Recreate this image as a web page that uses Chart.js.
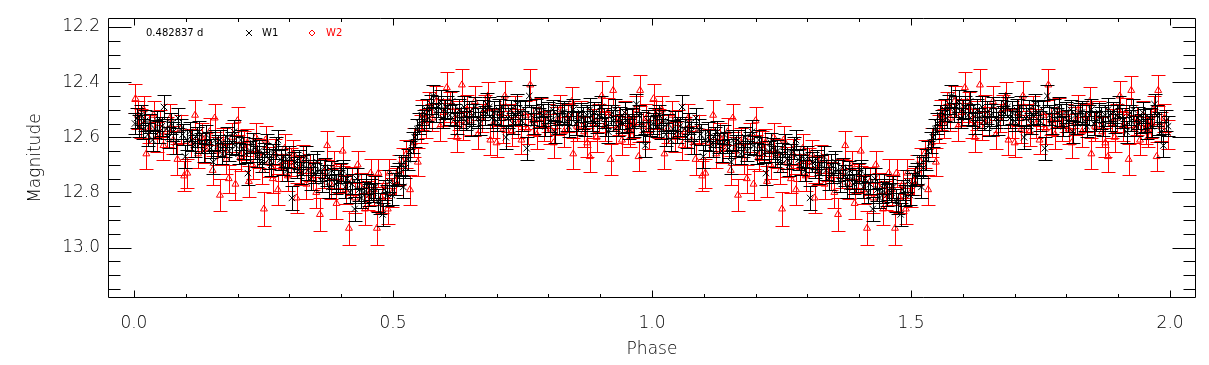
<!DOCTYPE html>
<html>
<head>
<meta charset="utf-8">
<script src="https://cdn.jsdelivr.net/npm/chart.js@4.4.0/dist/chart.umd.min.js"></script>
<style>
html,body{margin:0;padding:0;background:#fff;}
#wrap{width:1209px;height:365px;position:relative;}
</style>
</head>
<body>
<div id="wrap"><canvas id="c" width="1209" height="365"></canvas></div>
<script>
// ---- data (one folded cycle, phase 0..1) ----
const periodLabel = "0.482837 d";
const seriesNames = ["W1", "W2"];

const w1Phase = [
0.002,0.006,0.010,0.014,0.018,0.022,0.027,0.031,0.036,0.040,
0.045,0.049,0.054,0.058,0.063,0.067,0.072,0.076,0.081,0.085,
0.090,0.094,0.099,0.103,0.108,0.112,0.117,0.121,0.126,0.130,
0.135,0.139,0.144,0.148,0.153,0.157,0.162,0.166,0.171,0.175,
0.180,0.184,0.189,0.193,0.197,0.202,0.206,0.211,0.216,0.220,
0.225,0.229,0.233,0.238,0.242,0.247,0.251,0.256,0.260,0.265,
0.269,0.274,0.278,0.283,0.287,0.292,0.296,0.300,0.305,0.309,
0.314,0.318,0.323,0.327,0.332,0.336,0.341,0.345,0.350,0.354,
0.359,0.363,0.368,0.372,0.377,0.381,0.386,0.390,0.394,0.399,
0.403,0.408,0.412,0.417,0.421,0.426,0.430,0.435,0.439,0.444,
0.448,0.453,0.457,0.462,0.466,0.471,0.475,0.480,0.484,0.489,
0.493,0.498,0.502,0.507,0.511,0.516,0.520,0.524,0.529,0.533,
0.538,0.542,0.547,0.551,0.556,0.560,0.565,0.569,0.574,0.578,
0.583,0.587,0.592,0.596,0.601,0.605,0.610,0.614,0.619,0.623,
0.628,0.632,0.637,0.641,0.646,0.650,0.655,0.659,0.664,0.668,
0.673,0.677,0.682,0.686,0.691,0.695,0.700,0.704,0.709,0.713,
0.718,0.722,0.727,0.731,0.736,0.740,0.745,0.749,0.754,0.758,
0.763,0.767,0.772,0.776,0.781,0.785,0.790,0.794,0.799,0.803,
0.808,0.812,0.817,0.821,0.826,0.830,0.835,0.839,0.844,0.848,
0.853,0.857,0.862,0.866,0.871,0.875,0.880,0.884,0.889,0.893,
0.898,0.902,0.907,0.911,0.916,0.920,0.925,0.929,0.934,0.938,
0.943,0.947,0.952,0.956,0.961,0.965,0.970,0.974,0.979,0.983,
0.987,0.992,0.996];
const w1Mag = [
12.55,12.53,12.56,12.52,12.57,12.54,12.59,12.55,12.61,12.57,
12.54,12.58,12.56,12.49,12.57,12.60,12.55,12.58,12.62,12.53,
12.57,12.59,12.67,12.61,12.58,12.61,12.63,12.60,12.58,12.62,
12.65,12.59,12.62,12.64,12.69,12.61,12.63,12.61,12.66,12.63,
12.60,12.65,12.62,12.58,12.63,12.66,12.61,12.64,12.66,12.73,
12.65,12.62,12.64,12.67,12.65,12.69,12.66,12.63,12.68,12.70,
12.66,12.64,12.61,12.68,12.70,12.67,12.72,12.67,12.82,12.69,
12.71,12.68,12.73,12.70,12.67,12.72,12.75,12.70,12.73,12.69,
12.72,12.76,12.71,12.74,12.78,12.72,12.75,12.77,12.76,12.73,
12.72,12.78,12.75,12.80,12.77,12.86,12.75,12.79,12.82,12.80,
12.77,12.81,12.79,12.80,12.78,12.83,12.84,12.88,12.79,12.81,
12.76,12.81,12.77,12.74,12.73,12.70,12.78,12.71,12.68,12.65,
12.62,12.60,12.57,12.55,12.52,12.54,12.50,12.53,12.48,12.45,
12.51,12.49,12.47,12.53,12.50,12.49,12.52,12.47,12.52,12.55,
12.50,12.53,12.49,12.54,12.51,12.56,12.52,12.49,12.53,12.55,
12.50,12.52,12.48,12.49,12.53,12.51,12.54,12.50,12.52,12.49,
12.60,12.53,12.50,12.55,12.52,12.48,12.51,12.54,12.50,12.64,
12.45,12.52,12.55,12.50,12.53,12.49,12.52,12.56,12.51,12.54,
12.50,12.58,12.52,12.55,12.51,12.51,12.54,12.56,12.52,12.50,
12.55,12.54,12.51,12.53,12.56,12.52,12.50,12.54,12.51,12.55,
12.52,12.49,12.53,12.56,12.58,12.52,12.54,12.50,12.56,12.53,
12.55,12.51,12.54,12.57,12.53,12.56,12.48,12.52,12.55,12.58,
12.63,12.54,12.56];
const w1Err = [
0.038,0.036,0.040,0.037,0.035,0.039,0.041,0.036,0.038,0.034,
0.037,0.040,0.035,0.042,0.036,0.039,0.037,0.034,0.040,0.038,
0.036,0.039,0.041,0.037,0.035,0.038,0.040,0.036,0.039,0.037,
0.040,0.036,0.038,0.035,0.042,0.037,0.039,0.036,0.038,0.040,
0.037,0.035,0.039,0.041,0.036,0.038,0.037,0.040,0.035,0.042,
0.038,0.036,0.039,0.037,0.040,0.035,0.038,0.041,0.036,0.039,
0.037,0.040,0.036,0.038,0.035,0.039,0.037,0.040,0.043,0.036,
0.038,0.035,0.040,0.037,0.039,0.036,0.041,0.038,0.035,0.039,
0.037,0.040,0.036,0.038,0.042,0.035,0.039,0.037,0.040,0.036,
0.038,0.041,0.037,0.039,0.036,0.043,0.038,0.040,0.037,0.039,
0.036,0.040,0.038,0.035,0.039,0.041,0.037,0.042,0.036,0.038,
0.040,0.037,0.039,0.036,0.038,0.035,0.040,0.037,0.039,0.036,
0.038,0.035,0.037,0.039,0.036,0.038,0.040,0.037,0.035,0.039,
0.036,0.038,0.040,0.037,0.035,0.039,0.036,0.038,0.040,0.037,
0.039,0.036,0.038,0.035,0.040,0.037,0.039,0.036,0.038,0.041,
0.037,0.035,0.039,0.036,0.038,0.040,0.037,0.039,0.036,0.038,
0.041,0.037,0.035,0.039,0.036,0.038,0.040,0.037,0.035,0.042,
0.039,0.036,0.038,0.040,0.037,0.035,0.039,0.036,0.038,0.040,
0.037,0.039,0.036,0.038,0.035,0.040,0.037,0.039,0.036,0.038,
0.040,0.037,0.035,0.039,0.036,0.038,0.041,0.037,0.039,0.036,
0.038,0.040,0.037,0.035,0.039,0.036,0.038,0.040,0.037,0.039,
0.036,0.038,0.041,0.037,0.035,0.039,0.036,0.038,0.040,0.037,
0.042,0.038,0.036];

const w2Phase = [
0.003,0.008,0.013,0.019,0.024,0.030,0.038,0.044,0.050,0.057,
0.063,0.070,0.076,0.084,0.090,0.097,0.103,0.110,0.118,0.124,
0.131,0.138,0.146,0.152,0.156,0.161,0.166,0.172,0.178,0.183,
0.190,0.196,0.200,0.206,0.212,0.219,0.222,0.229,0.235,0.241,
0.248,0.251,0.254,0.261,0.268,0.272,0.278,0.285,0.291,0.297,
0.303,0.308,0.314,0.320,0.327,0.333,0.340,0.346,0.352,0.359,
0.366,0.373,0.380,0.386,0.391,0.398,0.403,0.409,0.415,0.421,
0.427,0.432,0.438,0.446,0.452,0.457,0.463,0.469,0.472,0.478,
0.484,0.490,0.493,0.499,0.505,0.512,0.519,0.526,0.533,0.540,
0.548,0.554,0.557,0.563,0.570,0.576,0.584,0.591,0.598,0.604,
0.611,0.617,0.623,0.628,0.633,0.636,0.643,0.650,0.658,0.664,
0.671,0.677,0.683,0.688,0.694,0.700,0.707,0.713,0.716,0.722,
0.729,0.735,0.742,0.748,0.755,0.760,0.765,0.771,0.778,0.785,
0.792,0.799,0.804,0.810,0.817,0.823,0.830,0.837,0.845,0.848,
0.855,0.862,0.869,0.875,0.880,0.887,0.893,0.898,0.903,0.909,
0.915,0.920,0.925,0.931,0.937,0.942,0.948,0.953,0.958,0.964,
0.969,0.974,0.977,0.983,0.989,0.995];
const w2Mag = [
12.46,12.52,12.55,12.50,12.66,12.57,12.52,12.60,12.55,12.63,
12.58,12.53,12.61,12.68,12.57,12.74,12.73,12.62,12.52,12.66,
12.60,12.64,12.58,12.72,12.53,12.65,12.81,12.62,12.68,12.75,
12.60,12.77,12.54,12.67,12.63,12.62,12.76,12.70,12.60,12.66,
12.72,12.86,12.61,12.69,12.75,12.66,12.79,12.71,12.64,12.74,
12.69,12.66,12.82,12.72,12.68,12.77,12.71,12.74,12.80,12.88,
12.73,12.63,12.77,12.70,12.84,12.75,12.65,12.79,12.93,12.76,
12.82,12.70,12.78,12.86,12.81,12.73,12.79,12.93,12.73,12.82,
12.77,12.86,12.73,12.80,12.76,12.72,12.69,12.66,12.79,12.62,
12.69,12.57,12.52,12.55,12.49,12.53,12.47,12.56,12.51,12.42,
12.49,12.55,12.60,12.52,12.41,12.56,12.50,12.54,12.47,12.59,
12.53,12.50,12.45,12.61,12.55,12.62,12.51,12.57,12.45,12.53,
12.58,12.50,12.55,12.61,12.52,12.57,12.41,12.54,12.59,12.51,
12.56,12.53,12.57,12.62,12.54,12.50,12.58,12.53,12.47,12.66,
12.56,12.52,12.58,12.62,12.67,12.55,12.60,12.53,12.45,12.56,
12.51,12.68,12.43,12.57,12.54,12.61,12.52,12.57,12.58,12.55,
12.50,12.67,12.43,12.56,12.53,12.59];
const w2Err = [
0.052,0.050,0.054,0.049,0.056,0.051,0.053,0.055,0.050,0.052,
0.054,0.049,0.052,0.057,0.051,0.055,0.053,0.050,0.054,0.052,
0.051,0.055,0.049,0.053,0.052,0.050,0.058,0.052,0.054,0.051,
0.053,0.056,0.050,0.052,0.054,0.049,0.055,0.051,0.053,0.052,
0.050,0.060,0.052,0.054,0.051,0.053,0.056,0.050,0.052,0.054,
0.052,0.049,0.055,0.053,0.051,0.054,0.050,0.052,0.056,0.059,
0.053,0.051,0.054,0.050,0.057,0.052,0.055,0.053,0.062,0.051,
0.054,0.052,0.050,0.058,0.053,0.051,0.055,0.062,0.052,0.054,
0.051,0.056,0.053,0.052,0.050,0.054,0.052,0.051,0.055,0.053,
0.052,0.050,0.054,0.051,0.053,0.049,0.055,0.052,0.050,0.056,
0.053,0.051,0.054,0.052,0.057,0.050,0.053,0.051,0.055,0.052,
0.050,0.054,0.052,0.056,0.051,0.053,0.049,0.052,0.055,0.051,
0.053,0.050,0.054,0.052,0.051,0.055,0.056,0.050,0.053,0.052,
0.054,0.051,0.053,0.055,0.050,0.052,0.054,0.051,0.053,0.056,
0.052,0.050,0.054,0.053,0.055,0.051,0.052,0.050,0.054,0.052,
0.051,0.055,0.053,0.052,0.050,0.054,0.051,0.053,0.055,0.052,
0.050,0.054,0.056,0.052,0.051,0.053];

const cycles = [0, 1];                 // light curve shown over two phase cycles
const xMajorTicks = [0, 0.5, 1.0, 1.5, 2.0];
const yMajorTicks = [12.2, 12.4, 12.6, 12.8, 13.0];

// ---- build datasets ----
function fold(ph, mg, er) {
  const out = [];
  cycles.forEach(c => ph.forEach((p, i) => out.push({x: p + c, y: mg[i], e: er[i]})));
  return out;
}

const FONT = "'DejaVu Sans', 'Liberation Sans', sans-serif";

const errorBars = {
  id: 'errorBars',
  beforeDatasetDraw(chart, args) {
    const ds = chart.data.datasets[args.index];
    const ys = chart.scales.y;
    const ctx = chart.ctx;
    ctx.save();
    ctx.strokeStyle = ds.borderColor;
    ctx.lineWidth = 1;
    ctx.beginPath();
    args.meta.data.forEach((pt, j) => {
      const d = ds.data[j];
      const x = Math.round(pt.x) + 0.5;
      const y1 = Math.round(ys.getPixelForValue(d.y - d.e)) + 0.5;
      const y2 = Math.round(ys.getPixelForValue(d.y + d.e)) + 0.5;
      ctx.moveTo(x, y1); ctx.lineTo(x, y2);
      ctx.moveTo(x - 7, y1); ctx.lineTo(x + 7, y1);
      ctx.moveTo(x - 7, y2); ctx.lineTo(x + 7, y2);
    });
    ctx.stroke();
    ctx.restore();
  }
};

const frameTicks = {
  id: 'frameTicks',
  afterDraw(chart) {
    const {ctx, chartArea: a, scales: {x, y}} = chart;
    ctx.save();
    ctx.strokeStyle = '#000';
    ctx.lineWidth = 1;
    ctx.beginPath();
    const L = Math.round(a.left) + 0.5, R = Math.round(a.right) - 0.5;
    const T = Math.round(a.top) + 0.5, B = Math.round(a.bottom) - 0.5;
    ctx.rect(L, T, R - L, B - T);
    // x ticks
    for (let k = 0; k <= 20; k++) {
      const v = k / 10;
      const major = xMajorTicks.some(m => Math.abs(m - v) < 1e-9);
      const len = major ? 7 : 3.5;
      const px = Math.round(x.getPixelForValue(v)) + 0.5;
      ctx.moveTo(px, B); ctx.lineTo(px, B - len);
      ctx.moveTo(px, T); ctx.lineTo(px, T + len);
    }
    // y ticks
    for (let k = 0; k <= 19; k++) {
      const v = 12.2 + k * 0.05;
      const major = yMajorTicks.some(m => Math.abs(m - v) < 1e-6);
      const len = major ? 23 : 12;
      const py = Math.round(y.getPixelForValue(v)) + 0.5;
      ctx.moveTo(L, py); ctx.lineTo(L + len, py);
      ctx.moveTo(R, py); ctx.lineTo(R - len, py);
    }
    ctx.stroke();

    // legend
    ctx.font = "10px " + FONT;
    ctx.textBaseline = 'middle';
    ctx.fillStyle = '#000';
    ctx.fillText(periodLabel, 146, 33);
    ctx.beginPath();
    ctx.moveTo(246, 30); ctx.lineTo(252, 36);
    ctx.moveTo(252, 30); ctx.lineTo(246, 36);
    ctx.stroke();
    ctx.fillText(seriesNames[0], 262, 33);
    ctx.strokeStyle = '#ff0000';
    ctx.fillStyle = '#ff0000';
    ctx.beginPath();
    ctx.moveTo(312, 30); ctx.lineTo(315, 33); ctx.lineTo(312, 36); ctx.lineTo(309, 33); ctx.closePath();
    ctx.stroke();
    ctx.fillText(seriesNames[1], 326, 33);
    ctx.restore();
  }
};

new Chart(document.getElementById('c'), {
  type: 'scatter',
  data: {
    datasets: [
      {
        label: seriesNames[0],
        data: fold(w1Phase, w1Mag, w1Err),
        borderColor: '#000000',
        backgroundColor: 'rgba(0,0,0,0)',
        pointStyle: 'crossRot',
        pointRadius: 4.5,
        borderWidth: 1
      },
      {
        label: seriesNames[1],
        data: fold(w2Phase, w2Mag, w2Err),
        borderColor: '#ff0000',
        backgroundColor: 'rgba(0,0,0,0)',
        pointStyle: 'triangle',
        pointRadius: 4,
        borderWidth: 1
      }
    ]
  },
  options: {
    responsive: false,
    animation: false,
    devicePixelRatio: 1,
    layout: {padding: {top: 14, right: 13, left: 0, bottom: 0}},
    plugins: {legend: {display: false}, tooltip: {enabled: false}},
    scales: {
      x: {
        type: 'linear',
        min: -0.05, max: 2.05,
        grid: {display: false, drawTicks: false},
        border: {display: false},
        afterFit(s) { s.height = 67; },
        afterBuildTicks(s) { s.ticks = xMajorTicks.map(v => ({value: v})); },
        ticks: {
          color: '#000', padding: 15,
          font: {family: FONT, size: 17, weight: 200},
          callback: v => Number(v).toFixed(1)
        },
        title: {display: true, text: 'Phase', color: '#000',
                font: {family: FONT, size: 17, weight: 200}, padding: {top: 0, bottom: 5}}
      },
      y: {
        type: 'linear',
        reverse: true,
        min: 12.168, max: 13.183,
        grid: {display: false, drawTicks: false},
        border: {display: false},
        afterFit(s) { s.width = 108; },
        afterBuildTicks(s) { s.ticks = yMajorTicks.map(v => ({value: v})); },
        ticks: {
          color: '#000', padding: 8,
          font: {family: FONT, size: 17, weight: 200},
          callback: v => Number(v).toFixed(1)
        },
        title: {display: true, text: 'Magnitude', color: '#000',
                font: {family: FONT, size: 17, weight: 200}, padding: {top: 25, bottom: 0}}
      }
    }
  },
  plugins: [errorBars, frameTicks]
});
</script>
</body>
</html>
